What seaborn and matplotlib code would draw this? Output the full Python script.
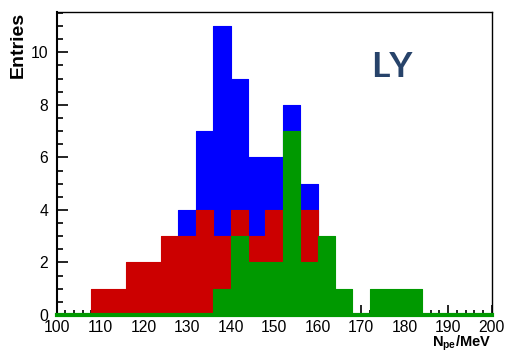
import numpy as np
import pandas as pd
import matplotlib
matplotlib.use("Agg")
import matplotlib.pyplot as plt
from matplotlib.ticker import MultipleLocator
import seaborn as sns

# Light yield distributions, 25 bins of 4 Npe/MeV between 100 and 200
bin_edges = list(range(100, 201, 4))
bin_centers = [(a + b) / 2 for a, b in zip(bin_edges[:-1], bin_edges[1:])]

counts_blue = [0, 0, 0, 0, 0, 1, 2, 4, 7, 11, 9, 6, 6, 8, 5, 1, 0, 0, 0, 0, 0, 0, 0, 0, 0]
counts_red = [0, 0, 1, 1, 2, 2, 3, 3, 4, 3, 4, 3, 4, 2, 4, 1, 0, 0, 0, 0, 0, 0, 0, 0, 0]
counts_green = [0, 0, 0, 0, 0, 0, 0, 0, 0, 1, 3, 2, 2, 7, 2, 3, 1, 0, 1, 1, 1, 0, 0, 0, 0]

series = [
    ("blue", counts_blue, "#0000ff"),
    ("red", counts_red, "#cc0000"),
    ("green", counts_green, "#009900"),
]

x_label = "N$_{\\mathbf{pe}}$/MeV"
y_label = "Entries"
title_text = "LY"

sns.set_style("white")
plt.rcParams["font.family"] = ["Liberation Sans", "DejaVu Sans"]
plt.rcParams["text.color"] = "black"
plt.rcParams["mathtext.fontset"] = "custom"
plt.rcParams["mathtext.rm"] = "Liberation Sans:bold"
plt.rcParams["mathtext.it"] = "Liberation Sans:bold"
plt.rcParams["mathtext.bf"] = "Liberation Sans:bold"

fig = plt.figure(figsize=(5.06, 3.52), dpi=100)
ax = fig.add_axes([0.112, 0.105, 0.8597, 0.862])

for name, counts, color in series:
    df = pd.DataFrame({"x": bin_centers, "w": counts})
    sns.histplot(
        data=df, x="x", weights="w", bins=bin_edges, element="step",
        fill=True, color=color, alpha=1.0, edgecolor=color, linewidth=0.8,
        ax=ax,
    )

ax.set_xlim(100, 200)
ax.set_ylim(0, 1.05 * max(counts_blue))
ax.set_xlabel("")
ax.set_ylabel("")

ax.xaxis.set_major_locator(MultipleLocator(10))
ax.xaxis.set_minor_locator(MultipleLocator(2))
ax.yaxis.set_major_locator(MultipleLocator(2))
ax.yaxis.set_minor_locator(MultipleLocator(0.5))
ax.set_axisbelow(True)

ax.tick_params(axis="both", which="both", direction="in", colors="black",
               labelcolor="black", labelsize=11.3, width=1.2,
               top=False, right=False, left=True, bottom=True)
ax.tick_params(axis="x", which="major", length=7, pad=3.8)
ax.tick_params(axis="x", which="minor", length=3.5)
ax.tick_params(axis="y", which="major", length=8, pad=6)
ax.tick_params(axis="y", which="minor", length=4)

for side in ("top", "right"):
    ax.spines[side].set_linewidth(1.0)
    ax.spines[side].set_color("black")
ax.spines["left"].set_linewidth(1.5)
ax.spines["left"].set_color("black")
# zero line of the green histogram runs along the whole bottom axis
ax.spines["bottom"].set_linewidth(3)
ax.spines["bottom"].set_color("#009900")
ax.spines["bottom"].set_zorder(3)

fig.text(0.97, 0.014, x_label, ha="right", va="baseline",
         fontsize=10.5, fontweight="bold", color="black")
fig.text(0.037, 0.966, y_label, ha="center", va="top", rotation=90,
         fontsize=14, fontweight="bold", color="black")
ax.text(0.722, 0.785, title_text, transform=ax.transAxes, ha="left",
        va="baseline", fontsize=25.5, fontweight="bold", color="#27436a",
        family=["Lato", "DejaVu Sans"])

fig.savefig("out.png", dpi=100)
